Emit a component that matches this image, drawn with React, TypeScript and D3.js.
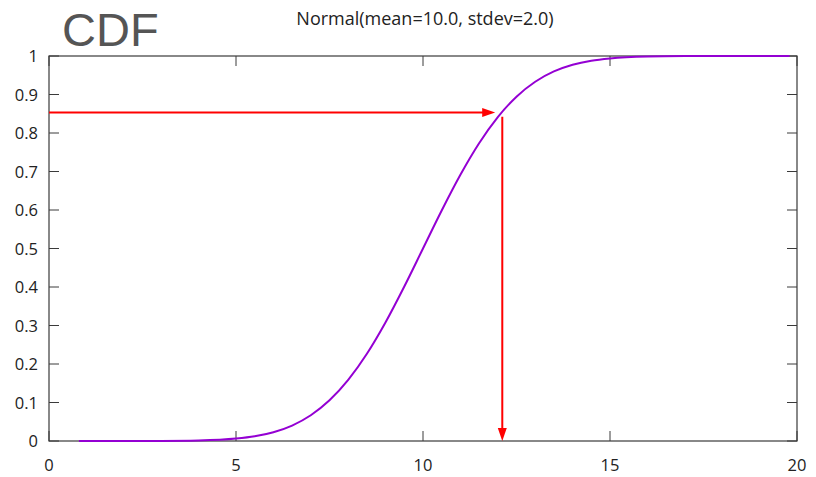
import * as d3 from 'd3';

const W = 816;
const H = 477;
const MARGIN = { top: 56, right: 19, bottom: 36, left: 49 };

// curve
const xs = [0.8, 1, 2, 3, 4, 5, 5.5, 6, 6.5, 7, 7.5, 8, 8.5, 9, 9.5, 10, 10.5, 11, 11.5, 12, 12.5, 13, 13.5, 14, 14.5, 15, 16, 17, 18, 19.8];
const ys = [0, 0, 0, 0.0002, 0.0013, 0.0062, 0.0122, 0.0228, 0.0401, 0.0668, 0.1056, 0.1587, 0.2266, 0.3085, 0.4013, 0.5, 0.5987, 0.6915, 0.7734, 0.8413, 0.8944, 0.9332, 0.9599, 0.9772, 0.9878, 0.9938, 0.9987, 0.9998, 1, 1];

const xTicks = [0, 5, 10, 15, 20];
const yTicks = [0, 0.1, 0.2, 0.3, 0.4, 0.5, 0.6, 0.7, 0.8, 0.9, 1];

// red arrows: probability -> curve, curve -> x
const hArrow = { x0: 0, x1: 11.93, y: 0.853 };
const vArrow = { x: 12.12, y0: 0.842, y1: 0 };

export default function App() {
  const innerW = W - MARGIN.left - MARGIN.right;
  const innerH = H - MARGIN.top - MARGIN.bottom;
  const x = d3.scaleLinear().domain([0, 20]).range([0, innerW]);
  const y = d3.scaleLinear().domain([0, 1]).range([innerH, 0]);

  const line = d3.line<number>()
    .x((_, i) => x(xs[i]))
    .y(d => y(d))
    .curve(d3.curveMonotoneX);

  const tick = 10;
  const axisColor = '#3a3a3a';
  const font = '"Open Sans", "DejaVu Sans", sans-serif';

  const hx1 = x(hArrow.x1), hy = y(hArrow.y);
  const vx = x(vArrow.x), vy1 = y(vArrow.y1);

  return (
    <svg width={W} height={H} style={{ position: 'absolute', left: 0, top: 0, background: '#fff' }}>
      <text x={62} y={46} fontFamily='"Liberation Sans", Arial, sans-serif' fontSize={47} fill="#555">CDF</text>
      <text x={425} y={25} textAnchor="middle" fontFamily={font} fontSize={18} fill="#222">
        Normal(mean=10.0, stdev=2.0)
      </text>
      <g transform={`translate(${MARGIN.left},${MARGIN.top})`}>
        {/* ticks, mirrored on all sides */}
        {xTicks.map(t => (
          <g key={'x' + t}>
            <line x1={x(t)} x2={x(t)} y1={innerH} y2={innerH - tick} stroke={axisColor} />
            <line x1={x(t)} x2={x(t)} y1={0} y2={tick} stroke={axisColor} />
            <text x={x(t)} y={innerH + 30} textAnchor="middle" fontFamily={font} fontSize={16.5} fill="#222">{t}</text>
          </g>
        ))}
        {yTicks.map(t => (
          <g key={'y' + t}>
            <line x1={0} x2={tick} y1={y(t)} y2={y(t)} stroke={axisColor} />
            <line x1={innerW} x2={innerW - tick} y1={y(t)} y2={y(t)} stroke={axisColor} />
            <text x={-11} y={y(t) + 6} textAnchor="end" fontFamily={font} fontSize={16.5} fill="#222">{t}</text>
          </g>
        ))}
        <rect x={0} y={0} width={innerW} height={innerH} fill="none" stroke={axisColor} strokeWidth={1.2} />

        <path d={line(ys) || ''} fill="none" stroke="#9400d3" strokeWidth={2} />

        <line x1={x(hArrow.x0)} x2={hx1 - 10} y1={hy} y2={hy} stroke="#f00" strokeWidth={2} />
        <path d={`M${hx1},${hy} L${hx1 - 13},${hy - 4.5} L${hx1 - 13},${hy + 4.5} Z`} fill="#f00" />

        <line x1={vx} x2={vx} y1={y(vArrow.y0)} y2={vy1 - 10} stroke="#f00" strokeWidth={2} />
        <path d={`M${vx},${vy1} L${vx - 4.5},${vy1 - 13} L${vx + 4.5},${vy1 - 13} Z`} fill="#f00" />
      </g>
    </svg>
  );
}
